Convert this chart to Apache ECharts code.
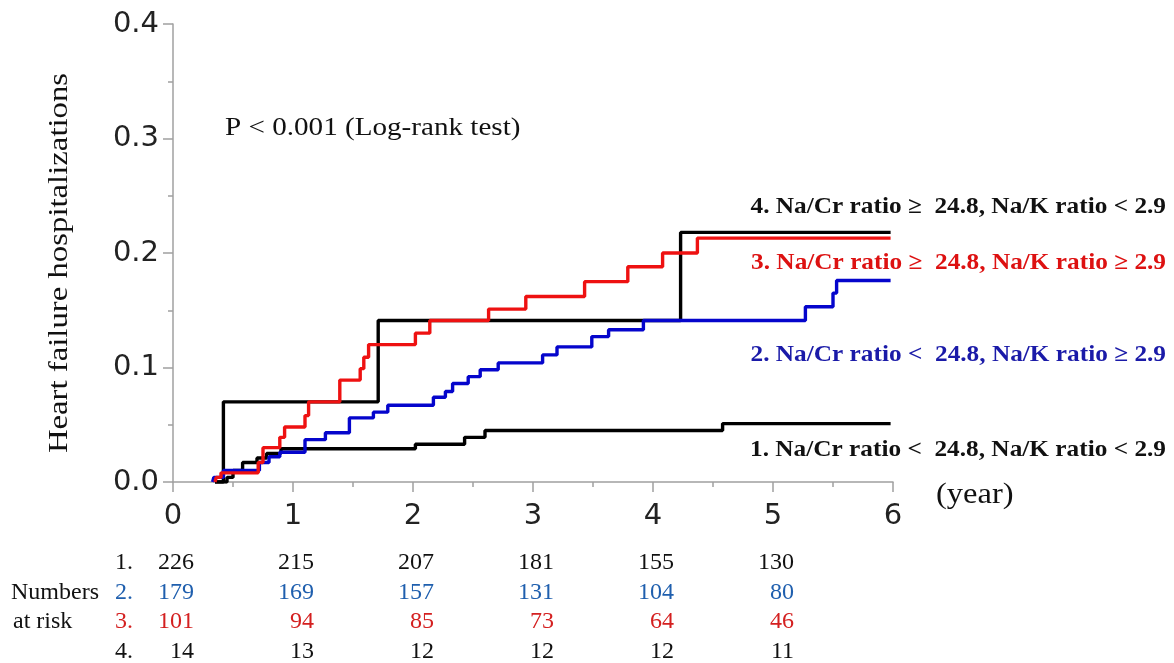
<!DOCTYPE html>
<html>
<head>
<meta charset="utf-8">
<script src="https://cdn.jsdelivr.net/npm/echarts@6/dist/echarts.min.js"></script>
<style>
html,body{margin:0;padding:0;background:#fff;}
#main{width:1174px;height:663px;}
</style>
</head>
<body>
<div id="main"></div>
<script>
// Kaplan-Meier style cumulative incidence: [time (year), value at/after that time]
const group1 = [[0.35,0],[0.45,0.004],[0.50,0.010],[0.58,0.017],[0.70,0.021],[0.78,0.025],[0.90,0.029],[2.02,0.033],[2.43,0.039],[2.60,0.045],[4.58,0.051],[5.98,0.051]];
const group2 = [[0.33,0],[0.34,0.004],[0.42,0.010],[0.72,0.017],[0.80,0.022],[0.89,0.026],[1.10,0.037],[1.27,0.043],[1.47,0.056],[1.67,0.061],[1.79,0.067],[2.17,0.074],[2.27,0.079],[2.33,0.086],[2.46,0.092],[2.56,0.098],[2.71,0.104],[3.08,0.111],[3.20,0.118],[3.49,0.127],[3.63,0.133],[3.92,0.141],[5.27,0.153],[5.50,0.165],[5.53,0.176],[5.98,0.176]];
const group3 = [[0.35,0],[0.36,0.004],[0.40,0.008],[0.71,0.017],[0.75,0.030],[0.89,0.039],[0.93,0.048],[1.10,0.058],[1.13,0.070],[1.39,0.089],[1.56,0.099],[1.59,0.109],[1.63,0.120],[2.02,0.130],[2.14,0.141],[2.63,0.151],[2.94,0.162],[3.43,0.175],[3.79,0.188],[4.08,0.200],[4.37,0.213],[5.98,0.213]];
const group4 = [[0.35,0],[0.42,0.070],[1.71,0.141],[4.23,0.218],[5.98,0.218]];

const groupNames = ["1. Na/Cr ratio <  24.8, Na/K ratio < 2.9","2. Na/Cr ratio <  24.8, Na/K ratio \u2265 2.9","3. Na/Cr ratio \u2265  24.8, Na/K ratio \u2265 2.9","4. Na/Cr ratio \u2265  24.8, Na/K ratio < 2.9"];
const lineColors = ["#000000","#0505cc","#ee1111","#000000"];
const labelColors = ["#111111","#1a1aa8","#dd1111","#111111"];
const tableColors = ["#111111","#1f5fae","#d42020","#111111"];

const riskTimes = [0,1,2,3,4,5];
const risk1 = [226,215,207,181,155,130];
const risk2 = [179,169,157,131,104,80];
const risk3 = [101,94,85,73,64,46];
const risk4 = [14,13,12,12,12,11];
const riskRows = [risk1,risk2,risk3,risk4];
const rowLabels = ["1.","2.","3.","4."];

const xTicks = [0,1,2,3,4,5,6];
const yTicks = [0,0.1,0.2,0.3,0.4];

const chart = echarts.init(document.getElementById('main'), null, {renderer:'canvas'});
const serif = '"Liberation Serif","Times New Roman",serif';
const sans = '"DejaVu Sans",Verdana,sans-serif';

const axisGray = '#a0a0a0';
const seriesData = [group1, group4, group2, group3];
const seriesColors = [lineColors[0], lineColors[3], lineColors[1], lineColors[2]];
const seriesNames = [groupNames[0], groupNames[3], groupNames[1], groupNames[2]];

chart.setOption({
  animation:false,
  backgroundColor:'#ffffff',
  grid:{left:173, top:24, right:281, bottom:181, containLabel:false},
  xAxis:{
    type:'value', min:xTicks[0], max:xTicks[xTicks.length-1], interval:1,
    axisLine:{show:true, onZero:false, lineStyle:{color:axisGray, width:1.5}},
    axisTick:{show:true, inside:false, length:10, lineStyle:{color:axisGray, width:1.5}},
    minorTick:{show:true, splitNumber:2, length:5, lineStyle:{color:axisGray, width:1.5}},
    splitLine:{show:false},
    axisLabel:{color:'#222', fontFamily:sans, fontSize:29, margin:20}
  },
  yAxis:{
    type:'value', min:yTicks[0], max:yTicks[yTicks.length-1], interval:0.1,
    axisLine:{show:true, onZero:false, lineStyle:{color:axisGray, width:1.5}},
    axisTick:{show:true, inside:false, length:10, lineStyle:{color:axisGray, width:1.5}},
    minorTick:{show:true, splitNumber:2, length:5, lineStyle:{color:axisGray, width:1.5}},
    splitLine:{show:false},
    axisLabel:{color:'#222', fontFamily:sans, fontSize:29, margin:14, formatter:v=>v.toFixed(1)}
  },
  series: seriesData.map((d,i)=>({
    type:'line', name:seriesNames[i], data:d, step:'end', symbol:'none',
    lineStyle:{color:seriesColors[i], width:3.4}, z:2+i
  }))
});

// Overlay text laid out relative to axis scale
const graphics = [];
graphics.push({type:'text', x:225, y:128, scaleX:1.12,
  style:{text:'P < 0.001 (Log-rank test)', font:'26px '+serif, fill:'#111', textAlign:'left', textVerticalAlign:'middle'}});
graphics.push({type:'text', x:60, y:263, rotation:Math.PI/2, scaleX:1.26, scaleY:1.05,
  style:{text:'Heart failure hospitalizations', font:'26px '+serif, fill:'#111', textAlign:'center', textVerticalAlign:'middle'}});
graphics.push({type:'text', x:936, y:495, scaleX:1.12,
  style:{text:'(year)', font:'29px '+serif, fill:'#111', textAlign:'left', textVerticalAlign:'middle'}});

const labelY = [450, 355, 263, 207];
for (let i=0;i<4;i++){
  graphics.push({type:'text', x:1166, y:labelY[i], scaleX:1.1,
    style:{text:groupNames[i], font:'bold 23px '+serif, fill:labelColors[i], textAlign:'right', textVerticalAlign:'middle'}});
}

const rowY = [563, 593, 622, 652];
graphics.push({type:'text', x:11, y:rowY[1], style:{text:'Numbers', font:'24px '+serif, fill:'#111', textAlign:'left', textVerticalAlign:'middle'}});
graphics.push({type:'text', x:13, y:rowY[2], style:{text:'at risk', font:'24px '+serif, fill:'#111', textAlign:'left', textVerticalAlign:'middle'}});
for (let r=0;r<4;r++){
  graphics.push({type:'text', x:115, y:rowY[r], style:{text:rowLabels[r], font:'24px '+serif, fill:tableColors[r], textAlign:'left', textVerticalAlign:'middle'}});
  for (let c=0;c<riskTimes.length;c++){
    const px = chart.convertToPixel({xAxisIndex:0}, riskTimes[c]);
    graphics.push({type:'text', x:px+21, y:rowY[r], style:{text:String(riskRows[r][c]), font:'24px '+serif, fill:tableColors[r], textAlign:'right', textVerticalAlign:'middle'}});
  }
}
chart.setOption({graphic:graphics});
</script>
</body>
</html>
